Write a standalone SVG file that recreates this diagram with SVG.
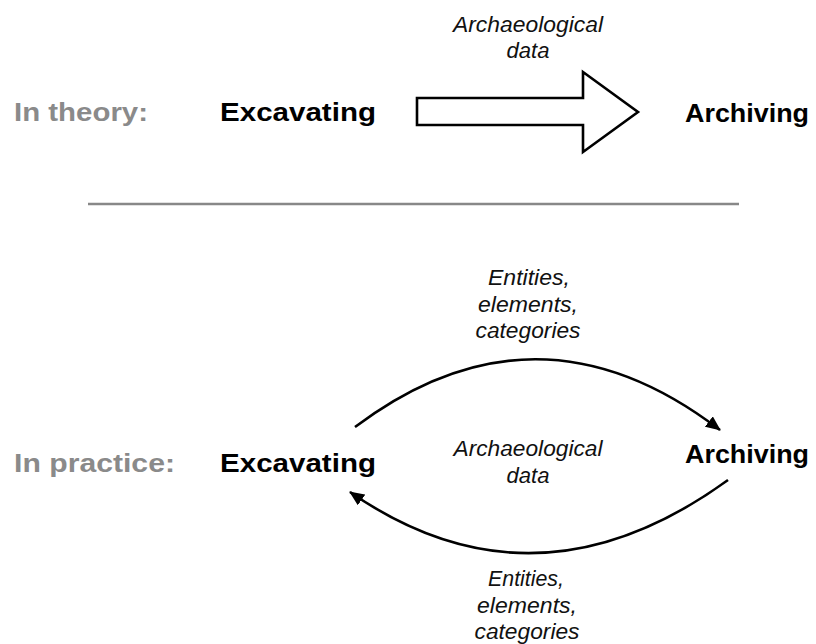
<svg xmlns="http://www.w3.org/2000/svg" width="816" height="644" viewBox="0 0 816 644">
<style>
.lab{font-family:"Liberation Sans",Arial,sans-serif;font-weight:bold;font-size:26px;fill:#000}
.gray{fill:#8a8a8a}
.it{font-family:"Liberation Sans",Arial,sans-serif;font-style:italic;font-size:22px;fill:#111;text-anchor:middle}
.conn{fill:none;stroke:#000;stroke-width:2.6}
</style>
<defs>
<marker id="ah" viewBox="0 0 15 13" refX="14" refY="6.5" markerWidth="15" markerHeight="13" markerUnits="userSpaceOnUse" orient="auto">
<path d="M0,0 L15,6.5 L0,13 Z" fill="#000"/>
</marker>
</defs>
<rect width="816" height="644" fill="#fff"/>
<g id="theory-label"><text class="lab gray" x="14" y="121" textLength="134" lengthAdjust="spacingAndGlyphs">In theory:</text></g>
<g id="theory-excavating"><text class="lab" x="220" y="121" textLength="156" lengthAdjust="spacingAndGlyphs">Excavating</text></g>
<g id="theory-archiving"><text class="lab" x="685" y="122" textLength="124" lengthAdjust="spacingAndGlyphs">Archiving</text></g>
<g id="theory-arrow">
<polygon points="417,98 583,98 583,72 638,112 583,152 583,125 417,125" fill="#fff" stroke="#000" stroke-width="2.6" stroke-linejoin="miter"/>
<text class="it" x="528" y="32" textLength="150" lengthAdjust="spacingAndGlyphs">Archaeological</text>
<text class="it" x="528" y="58" textLength="43" lengthAdjust="spacingAndGlyphs">data</text>
</g>
<g id="divider"><line x1="88" y1="204" x2="739" y2="204" stroke="#888" stroke-width="2.5"/></g>
<g id="practice-label"><text class="lab gray" x="14" y="472" textLength="161" lengthAdjust="spacingAndGlyphs">In practice:</text></g>
<g id="practice-excavating"><text class="lab" x="220" y="472" textLength="156" lengthAdjust="spacingAndGlyphs">Excavating</text></g>
<g id="practice-archiving"><text class="lab" x="685" y="463" textLength="124" lengthAdjust="spacingAndGlyphs">Archiving</text></g>
<g id="connectors">
<path class="conn" d="M355,427 Q537,290 720,430" marker-end="url(#ah)"/>
<path class="conn" d="M728,480 Q535,620 350,492" marker-end="url(#ah)"/>
</g>
<g id="labels">
<text class="it" x="529" y="285" textLength="82" lengthAdjust="spacingAndGlyphs">Entities,</text>
<text class="it" x="528" y="312" textLength="100" lengthAdjust="spacingAndGlyphs">elements,</text>
<text class="it" x="528" y="338" textLength="105" lengthAdjust="spacingAndGlyphs">categories</text>
<text class="it" x="528" y="456" textLength="149" lengthAdjust="spacingAndGlyphs">Archaeological</text>
<text class="it" x="528" y="483" textLength="43" lengthAdjust="spacingAndGlyphs">data</text>
<text class="it" x="526" y="586" textLength="76" lengthAdjust="spacingAndGlyphs">Entities,</text>
<text class="it" x="527" y="613" textLength="100" lengthAdjust="spacingAndGlyphs">elements,</text>
<text class="it" x="527" y="639" textLength="105" lengthAdjust="spacingAndGlyphs">categories</text>
</g>
</svg>
